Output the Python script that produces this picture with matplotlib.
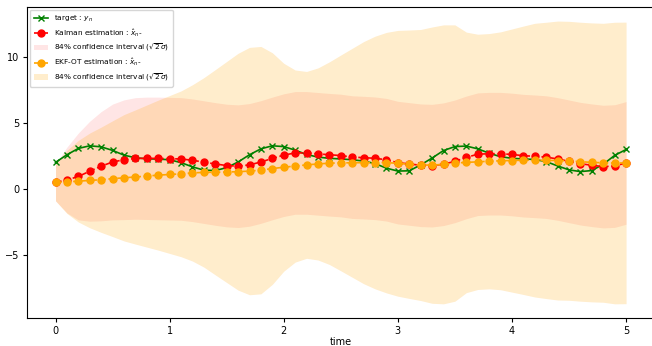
import numpy as np
import matplotlib
matplotlib.use("Agg")
import matplotlib.pyplot as plt

time = np.round(np.arange(0, 5.01, 0.1), 2)

target = [2.02, 2.6, 3.08, 3.28, 3.2, 2.93, 2.57, 2.37, 2.29, 2.27,
          2.22, 2.0, 1.68, 1.43, 1.4, 1.62, 2.05, 2.6, 3.05, 3.28,
          3.22, 2.95, 2.62, 2.42, 2.33, 2.28, 2.22, 2.12, 1.93, 1.58,
          1.36, 1.38, 1.83, 2.35, 2.92, 3.22, 3.26, 3.05, 2.72, 2.45,
          2.33, 2.28, 2.24, 2.08, 1.75, 1.45, 1.32, 1.4, 1.88, 2.55, 3.0]

kalman = [0.5, 0.68, 0.95, 1.35, 1.73, 2.05, 2.22, 2.32, 2.33, 2.32,
          2.3, 2.28, 2.18, 2.04, 1.9, 1.78, 1.73, 1.83, 2.05, 2.32,
          2.57, 2.74, 2.74, 2.67, 2.6, 2.54, 2.42, 2.38, 2.33, 2.22,
          2.0, 1.9, 1.8, 1.77, 1.88, 2.1, 2.4, 2.64, 2.68, 2.68,
          2.62, 2.53, 2.48, 2.42, 2.28, 2.1, 1.92, 1.8, 1.7, 1.74, 1.98]

ekf_ot = [0.5, 0.54, 0.59, 0.65, 0.7, 0.78, 0.85, 0.91, 0.98, 1.05,
          1.1, 1.15, 1.22, 1.26, 1.27, 1.29, 1.31, 1.36, 1.43, 1.55,
          1.65, 1.74, 1.83, 1.9, 1.96, 1.98, 1.99, 2.0, 2.01, 2.0,
          1.95, 1.88, 1.82, 1.81, 1.87, 1.97, 2.02, 2.06, 2.11, 2.14,
          2.16, 2.18, 2.19, 2.17, 2.16, 2.14, 2.07, 2.02, 1.99, 1.97, 1.98]

# half-widths of the 84% confidence intervals (sqrt(2) * sigma)
kalman_hw = [1.4, 2.5, 3.3, 3.8, 4.15, 4.4, 4.55, 4.62, 4.65, 4.66,
             4.66, 4.66, 4.66, 4.66, 4.66, 4.66, 4.66, 4.66, 4.66, 4.66,
             4.66, 4.66, 4.66, 4.66, 4.66, 4.66, 4.66, 4.66, 4.66, 4.66,
             4.66, 4.66, 4.66, 4.66, 4.66, 4.66, 4.66, 4.66, 4.66, 4.66,
             4.66, 4.66, 4.66, 4.66, 4.66, 4.66, 4.66, 4.66, 4.66, 4.66, 4.66]

ekf_hw = [1.4, 2.4, 3.1, 3.6, 4.0, 4.4, 4.8, 5.1, 5.4, 5.7,
          6.0, 6.3, 6.7, 7.2, 7.8, 8.4, 9.0, 9.4, 9.4, 8.8,
          7.9, 7.3, 7.1, 7.3, 7.7, 8.2, 8.7, 9.2, 9.6, 9.9,
          10.1, 10.2, 10.3, 10.5, 10.6, 10.5, 9.9, 9.7, 9.7, 9.8,
          10.0, 10.2, 10.4, 10.5, 10.6, 10.6, 10.6, 10.6, 10.6, 10.7, 10.7]

kalman = np.array(kalman)
ekf_ot = np.array(ekf_ot)
kalman_hw = np.array(kalman_hw)
ekf_hw = np.array(ekf_hw)

plt.rcParams['font.size'] = 7
fig = plt.figure(figsize=(6.52, 3.46), dpi=100)
ax = fig.add_axes([0.0414, 0.081, 0.9626, 0.899])

ax.plot(time, target, color='green', marker='x', markersize=4.5, linewidth=1.2,
        label=r'target : $y_n$')
ax.plot(time, kalman, color='red', marker='o', markersize=5, linestyle='--',
        linewidth=1.2, label=r'Kalman estimation : $\hat{x}_n$-')
ax.fill_between(time, kalman - kalman_hw, kalman + kalman_hw, color='red',
                alpha=0.1, linewidth=0,
                label=r'84% confidence interval ($\sqrt{2}\sigma$)')
ax.plot(time, ekf_ot, color='orange', marker='o', markersize=5, linestyle='--',
        linewidth=1.2, label=r'EKF-OT estimation : $\hat{x}_n$-')
ax.fill_between(time, ekf_ot - ekf_hw, ekf_ot + ekf_hw, color='orange',
                alpha=0.2, linewidth=0,
                label=r'84% confidence interval ($\sqrt{2}\sigma$)')

ax.tick_params(axis='both', labelsize=7, length=3, pad=2.5)
ax.set_xlabel('time', fontsize=7, labelpad=1)
ax.legend(loc='upper left', fontsize=5.3, labelspacing=0.45,
          handlelength=2.0, borderpad=0.5, borderaxespad=0.4)

fig.savefig('out.png', dpi=100)
